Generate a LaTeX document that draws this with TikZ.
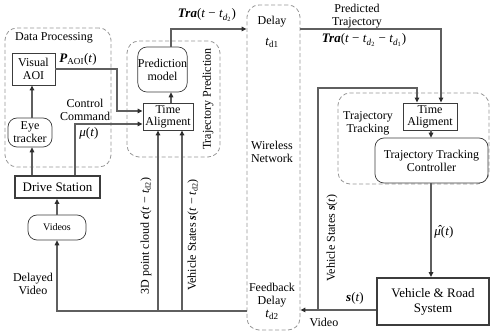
\documentclass[tikz,border=0pt]{standalone}
\usepackage{fontspec}
\setmainfont{Liberation Serif}
\usetikzlibrary{arrows.meta}

\definecolor{linegray}{RGB}{95,95,95}
\definecolor{tipdark}{RGB}{45,45,45}
\definecolor{dashgray}{RGB}{150,150,150}
\definecolor{boxline}{RGB}{60,60,60}

% symbols set in text mode
\newcommand\bi[1]{\textbf{\textit{#1}}}
\newcommand\vv[1]{\textit{#1}}
\newcommand\sub[1]{\textsubscript{#1}}
% mu with a circumflex placed over it by hand
\newcommand\muhat{\makebox[0pt][l]{\hspace{0.2em}\raisebox{0.12em}{\textit{ˆ}}}\textit{μ}}

\tikzset{
  every node/.style={font=\fontsize{12}{14}\selectfont, align=center, inner sep=0pt},
  plainbox/.style={draw=boxline, line width=0.8pt, fill=white},
  roundbox/.style={draw=boxline, line width=0.7pt, rounded corners=9pt, fill=white},
  heavybox/.style={draw=boxline, line width=1.8pt, fill=white},
  group/.style={draw=dashgray, line width=0.8pt, dash pattern=on 4pt off 2.5pt, rounded corners=12pt},
  arr/.style={draw=linegray, line width=1.3pt, -{Triangle[length=5pt,width=4.5pt,color=tipdark]}},
  lbl/.style={font=\fontsize{13}{15}\selectfont},
}

\begin{document}
\begin{tikzpicture}[x=1pt, y=-1pt]
  \useasboundingbox (0,0) rectangle (491,331);

  % ---- dashed groups ----
  \node[group, minimum width=106pt, minimum height=139pt] (dp) at (58,97.5) {};
  \node[group, minimum width=93pt, minimum height=116pt] (tp) at (173.5,99) {};
  \node[group, minimum width=53pt, minimum height=325pt] (wn) at (273.5,167.5) {};
  \node[group, minimum width=151pt, minimum height=91pt] (tt) at (413.5,138.5) {};

  % ---- blocks ----
  \node[plainbox, minimum width=43pt, minimum height=32pt] (aoi) at (33.5,69) {Visual\\[-1pt]AOI};
  \node[roundbox, minimum width=44pt, minimum height=29pt] (eye) at (30,132.5) {Eye\\[-1pt]tracker};
  \node[heavybox, minimum width=85pt, minimum height=22pt, font=\fontsize{13}{15}\selectfont] (ds) at (57.5,187) {Drive Station};
  \node[roundbox, minimum width=58pt, minimum height=25pt, font=\fontsize{10}{12}\selectfont] (vid) at (57,227.5) {Videos};
  \node[roundbox, minimum width=45pt, minimum height=45pt] (pm) at (162.5,69.5) {Prediction\\[-1pt]model};
  \node[plainbox, minimum width=50pt, minimum height=27pt] (ta1) at (168,116.5) {Time\\[-2pt]Aligment};
  \node[plainbox, minimum width=54pt, minimum height=27pt] (ta2) at (430,116.5) {Time\\[-2pt]Aligment};
  \node[roundbox, minimum width=113pt, minimum height=45pt] (ttc) at (431.5,160.5) {Trajectory Tracking\\[-1pt]Controller};
  \node[heavybox, minimum width=112pt, minimum height=47pt, font=\fontsize{13}{15}\selectfont] (vr) at (433,301.5) {Vehicle \& Road\\System};

  % ---- routing columns and rows ----
  \coordinate (x32) at (32,0);
  \coordinate (x57) at (57,0);
  \coordinate (x75) at (75,0);
  \coordinate (x117) at (117,0);
  \coordinate (x158) at (158,0);
  \coordinate (x171) at (171,0);
  \coordinate (x182) at (182,0);
  \coordinate (x318) at (318,0);
  \coordinate (x417) at (417,0);
  \coordinate (x431) at (431,0);
  \coordinate (x441) at (441,0);
  \coordinate (y29) at (0,29);
  \coordinate (y69) at (0,69);
  \coordinate (y88) at (0,88);
  \coordinate (y111) at (0,111);
  \coordinate (y124) at (0,124);
  \coordinate (y310) at (0,310);
  \coordinate (y311) at (0,311);

  % ---- connectors: operator side ----
  \draw[arr] (x32 |- eye.north) -- (x32 |- aoi.south);
  \draw[arr] (x32 |- ds.north) -- (x32 |- eye.south);
  \draw[arr] (aoi.east |- y69) -- (x117 |- y69) -- (x117 |- y111) -- (ta1.west |- y111);
  \draw[arr] (x75 |- ds.north) -- (x75 |- y124) -- (ta1.west |- y124);
  \draw[arr] (x171 |- ta1.north) -- (x171 |- pm.south);
  \draw[arr] (x171 |- pm.north) -- (x171 |- y29) -- (wn.west |- y29);
  \draw[arr] (x57 |- vid.north) -- (x57 |- ds.south);

  % feedback bus from the network back to the operator
  \draw[arr] (wn.west |- y311) -- (x57 |- y311) -- (x57 |- vid.south);
  \draw[arr] (x158 |- y311) -- (x158 |- ta1.south);
  \draw[arr] (x182 |- y311) -- (x182 |- ta1.south);

  % ---- connectors: vehicle side ----
  \draw[arr] (wn.east |- y29) -- (x441 |- y29) -- (x441 |- ta2.north);
  \draw[arr] (vr.west |- y310) -- (wn.east |- y310);
  \draw[arr] (x318 |- y310) -- (x318 |- y88) -- (x417 |- y88) -- (x417 |- ta2.north);
  \draw[arr] (x431 |- ta2.south) -- (x431 |- ttc.north);
  \draw[arr] (x431 |- ttc.south) -- (x431 |- vr.north);

  % ---- labels ----
  \node (tDP) at (54,38) {Data Processing};
  \node[lbl] (tPaoi) at (78,59) {\bi{P}\sub{AOI}(\vv{t})};
  \node (tCC) at (85,110) {Control\\[-1pt]Command};
  \node[lbl] (tMu) at (89,133) {\vv{μ}(\vv{t})};
  \node[lbl] (tTra1) at (207,15) {\bi{Tra}(\vv{t} − \vv{t}\sub{\vv{d}\sub{2}})};
  \node[rotate=90] (tTP) at (208,99) {Trajectory Prediction};
  \node (tPT) at (357,16) {Predicted\\[-1pt]Trajectory};
  \node[lbl] (tTra2) at (364,40) {\bi{Tra}(\vv{t} − \vv{t}\sub{\vv{d}\sub{2}} − \vv{t}\sub{\vv{d}\sub{1}})};
  \node (tD1) at (272,22) {Delay};
  \node[lbl] (tTd1) at (272,43) {\vv{t}\sub{d1}};
  \node (tWN) at (272,152) {Wireless\\[-1pt]Network};
  \node (tFD) at (272,295) {Feedback\\[-1pt]Delay};
  \node[lbl] (tTd2) at (272,315) {\vv{t}\sub{d2}};
  \node (tTT) at (368,123.5) {Trajectory\\[-1pt]Tracking};
  \node[lbl] (tMuHat) at (444,232) {\muhat(\vv{t})};
  \node[lbl] (tSt) at (355,298) {\bi{s}(\vv{t})};
  \node (tVideo) at (324,322) {Video};
  \node (tDV) at (33,284) {Delayed\\[-1pt]Video};
  \node[rotate=90] (tPC) at (146,236) {3D point cloud \bi{c}(\vv{t} − \vv{t}\sub{d2})};
  \node[rotate=90] (tVS1) at (193,235) {Vehicle States \bi{s}(\vv{t} − \vv{t}\sub{d2})};
  \node[rotate=90] (tVS2) at (332,238) {Vehicle States \bi{s}(\vv{t})};
\end{tikzpicture}
\end{document}
